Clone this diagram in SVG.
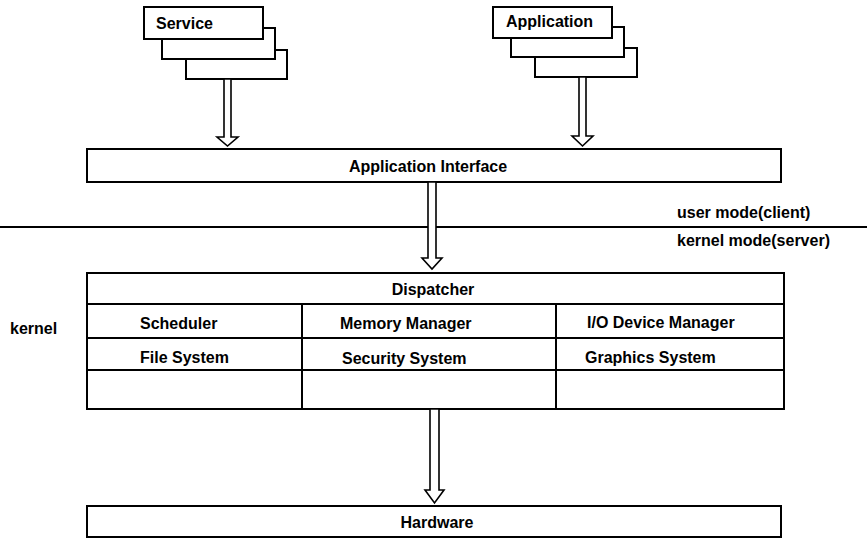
<svg xmlns="http://www.w3.org/2000/svg" width="867" height="540" viewBox="0 0 867 540">
<style>
.box{fill:#fff;stroke:#000;stroke-width:2}
.ln{stroke:#000;stroke-width:2;fill:none}
.arr{fill:#fff;stroke:#000;stroke-width:1.6;stroke-linejoin:miter}
text{font-family:"Liberation Sans",Arial,sans-serif;font-weight:bold;font-size:16px;fill:#000}
.c{text-anchor:middle}
</style>
<rect width="867" height="540" fill="#fff"/>
<g id="service">
<rect class="box" x="186" y="50" width="101" height="29"/>
<rect class="box" x="162" y="28" width="113" height="31"/>
<rect class="box" x="144" y="7" width="119" height="32"/>
<text x="156" y="29">Service</text>
</g>
<g id="application">
<rect class="box" x="535" y="48" width="102" height="29"/>
<rect class="box" x="511" y="27" width="113" height="30"/>
<rect class="box" x="493" y="7" width="119" height="31"/>
<text x="506" y="27">Application</text>
</g>
<g id="app-interface">
<rect class="box" x="87" y="149" width="694" height="33"/>
<text class="c" x="428" y="172">Application Interface</text>
</g>
<g id="mode-divider">
<line class="ln" x1="0" y1="227" x2="867" y2="227"/>
<text x="677" y="218">user mode(client)</text>
<text x="677" y="246">kernel mode(server)</text>
</g>
<g id="kernel">
<text x="10" y="334">kernel</text>
<rect class="box" x="87" y="273" width="697" height="136"/>
<line class="ln" x1="87" y1="304" x2="784" y2="304"/>
<line class="ln" x1="87" y1="338" x2="784" y2="338"/>
<line class="ln" x1="87" y1="370" x2="784" y2="370"/>
<line class="ln" x1="302" y1="304" x2="302" y2="409"/>
<line class="ln" x1="556" y1="304" x2="556" y2="409"/>
<text class="c" x="433" y="295">Dispatcher</text>
<text x="140" y="329">Scheduler</text>
<text x="340" y="329">Memory Manager</text>
<text x="587" y="328">I/O Device Manager</text>
<text x="140" y="363">File System</text>
<text x="342" y="364">Security System</text>
<text x="585" y="363">Graphics System</text>
</g>
<g id="hardware">
<rect class="box" x="87" y="506" width="694" height="31"/>
<text class="c" x="437" y="528">Hardware</text>
</g>
<g id="connectors">
<path class="arr" d="M224,79 L231,79 L231,137 L238,137 L227.5,146 L217,137 L224,137 Z"/>
<path class="arr" d="M579,77 L586,77 L586,136 L593,136 L582.5,146 L572,136 L579,136 Z"/>
<path class="arr" d="M428,182 L436,182 L436,258 L442,258 L432,269 L422,258 L428,258 Z"/>
<path class="arr" d="M430,409 L439,409 L439,490 L444,490 L434.5,503 L425,490 L430,490 Z"/>
</g>
</svg>
